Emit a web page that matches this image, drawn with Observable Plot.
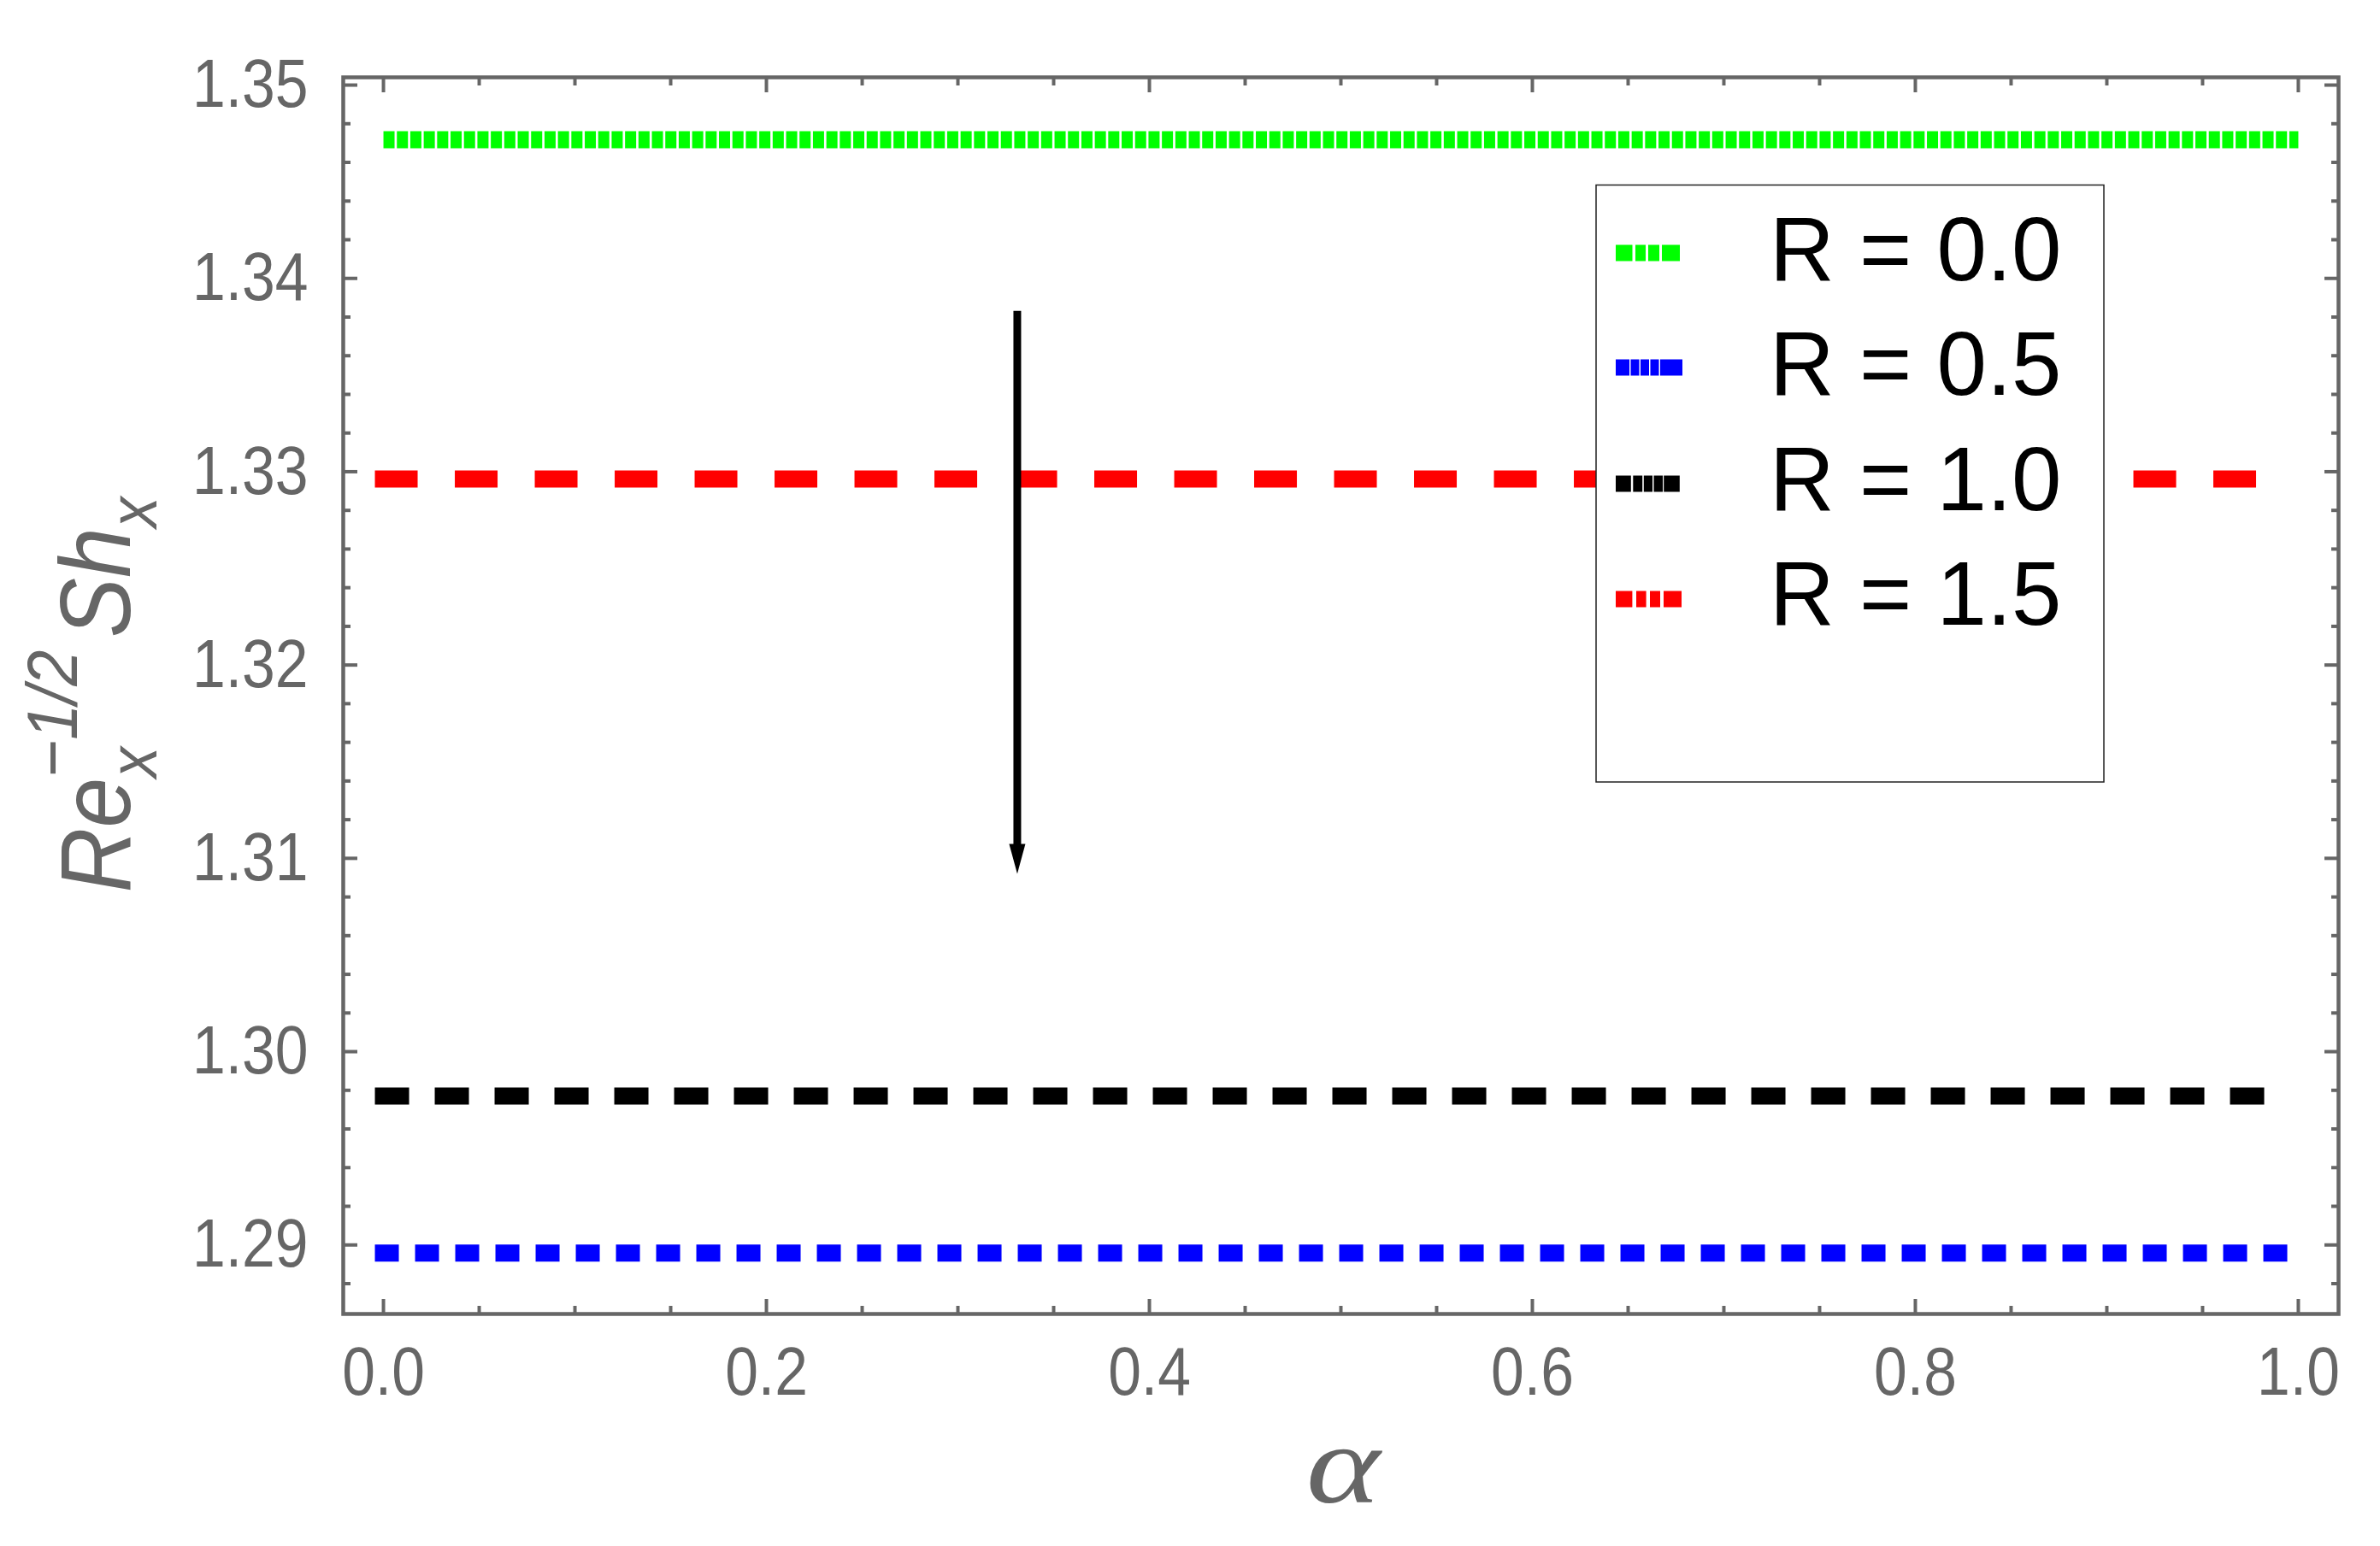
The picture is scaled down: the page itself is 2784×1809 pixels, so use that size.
<!DOCTYPE html>
<html>
<head>
<meta charset="utf-8">
<script src="https://cdn.jsdelivr.net/npm/d3@7"></script>
<script src="https://cdn.jsdelivr.net/npm/@observablehq/plot@0.6"></script>
<style>
  html, body { margin: 0; padding: 0; background: #fff; }
  svg { display: block; }
</style>
</head>
<body>
<div id="chart"></div>
<script>
// ---------- data ----------
const alpha = [0, 1];
const seriesNames = ["R = 0.0", "R = 0.5", "R = 1.0", "R = 1.5"];
const shR00 = [1.34717, 1.34717];
const shR05 = [1.28958, 1.28958];
const shR10 = [1.29770, 1.29770];
const shR15 = [1.32962, 1.32962];
const xTicks = [0, 0.2, 0.4, 0.6, 0.8, 1.0];
const xMinorTicks = [0.05, 0.1, 0.15, 0.25, 0.3, 0.35, 0.45, 0.5, 0.55, 0.65, 0.7, 0.75, 0.85, 0.9, 0.95];
const yTicks = [1.29, 1.30, 1.31, 1.32, 1.33, 1.34, 1.35];
const yMinorTicks = [1.288, 1.292, 1.294, 1.296, 1.298, 1.302, 1.304, 1.306, 1.308,
  1.312, 1.314, 1.316, 1.318, 1.322, 1.324, 1.326, 1.328, 1.332, 1.334, 1.336, 1.338,
  1.342, 1.344, 1.346, 1.348];
const arrowAlpha = [0.331];
const arrowTop = [1.3383];
const arrowTip = [1.3092];

// ---------- styles ----------
const colors = ["#00ff00", "#0000ff", "#000000", "#ff0000"];
const dashes = ["13,2.7", "8,39", "20,50", "30,63.5"];
const caps = ["butt", "square", "square", "square"];
const legendDashes = [
  "19.5,3.5,12,3,13,3,21,100",
  "16,1.5,10,1.5,10,1.5,10,1.5,26,100",
  "17.8,2.5,10.9,1.6,10.2,1.5,10.5,1.2,18.6,100",
  "19.4,4.6,11.6,4.4,12,4,21,100"
];
const gray = "#666666";
const sansFont = "'Liberation Sans', Arial, sans-serif";

const values = [shR00, shR05, shR10, shR15];
const series = seriesNames.map((name, i) =>
  alpha.map((a, j) => ({alpha: a, sh: values[i][j], name})));
const arrowData = arrowAlpha.map((a, i) => ({alpha: a, top: arrowTop[i], tip: arrowTip[i]}));

const headSymbol = {
  draw(ctx) {
    ctx.moveTo(0, 0);
    ctx.lineTo(-9.5, -35);
    ctx.lineTo(9.5, -35);
    ctx.closePath();
  }
};

const svg = Plot.plot({
  width: 2784,
  height: 1809,
  marginLeft: 401,
  marginRight: 49,
  marginTop: 90,
  marginBottom: 272,
  style: {background: "white", fontFamily: sansFont, color: gray},
  x: {domain: [-0.021, 1.021]},
  y: {domain: [1.28643, 1.3504]},
  marks: [
    // lines
    ...series.map((d, i) => Plot.line(d, {
      x: "alpha", y: "sh", stroke: colors[i], strokeWidth: 20,
      strokeDasharray: dashes[i], strokeLinecap: caps[i]
    })),
    // arrow
    Plot.ruleX(arrowData, {x: "alpha", y1: "top", y2: "tip", stroke: "black", strokeWidth: 9, insetBottom: 25}),
    Plot.dot(arrowData, {x: "alpha", y: "tip", symbol: headSymbol, fill: "black", stroke: "none"}),
    // frame
    Plot.frame({stroke: gray, strokeWidth: 4.5}),
    // ticks (inward)
    Plot.axisX(xTicks, {anchor: "bottom", tickSize: -17, fill: "none", stroke: gray, strokeWidth: 4, label: null}),
    Plot.axisX(xTicks, {anchor: "top", tickSize: -17, fill: "none", stroke: gray, strokeWidth: 4, label: null}),
    Plot.axisX(xMinorTicks, {anchor: "bottom", tickSize: -9, fill: "none", stroke: gray, strokeWidth: 4, label: null}),
    Plot.axisX(xMinorTicks, {anchor: "top", tickSize: -9, fill: "none", stroke: gray, strokeWidth: 4, label: null}),
    Plot.axisY(yTicks, {anchor: "left", tickSize: -17, fill: "none", stroke: gray, strokeWidth: 4, label: null}),
    Plot.axisY(yTicks, {anchor: "right", tickSize: -17, fill: "none", stroke: gray, strokeWidth: 4, label: null}),
    Plot.axisY(yMinorTicks, {anchor: "left", tickSize: -9, fill: "none", stroke: gray, strokeWidth: 4, label: null}),
    Plot.axisY(yMinorTicks, {anchor: "right", tickSize: -9, fill: "none", stroke: gray, strokeWidth: 4, label: null}),
    // tick labels
    Plot.axisX(xTicks, {anchor: "bottom", tickSize: 0, tickPadding: 38, tickFormat: d3.format(".1f"),
      fill: gray, fontSize: 80, fontFamily: sansFont, label: null}),
    Plot.axisY(yTicks, {anchor: "left", tickSize: 0, tickPadding: 41, tickFormat: d3.format(".2f"),
      fill: gray, fontSize: 80, fontFamily: sansFont, label: null})
  ]
});

const s = d3.select(svg);

// narrow tick labels
s.selectAll('g[aria-label="x-axis tick label"] text, g[aria-label="y-axis tick label"] text')
  .attr("transform", function() { return (d3.select(this).attr("transform") || "") + " scale(0.87,1)"; });

// y axis label
const yl = s.append("text")
  .attr("transform", "translate(152,813) rotate(-90) scale(0.9,1)")
  .attr("text-anchor", "middle")
  .attr("fill", gray)
  .attr("font-family", sansFont)
  .attr("font-style", "italic");
yl.append("tspan").attr("font-size", 117).text("Re");
yl.append("tspan").attr("font-size", 80).attr("dy", 31).text("x");
yl.append("tspan").attr("font-size", 84).attr("dx", -40).attr("dy", -93).text("\u22121/2");
yl.append("tspan").attr("font-size", 117).attr("dx", 16).attr("dy", 62).text("Sh");
yl.append("tspan").attr("font-size", 80).attr("dy", 31).text("x");

// x axis label
s.append("text")
  .attr("transform", "translate(1571,1758) scale(1.25,1)")
  .attr("text-anchor", "middle")
  .attr("fill", gray)
  .attr("font-family", "'Liberation Serif', 'Times New Roman', serif")
  .attr("font-style", "italic")
  .attr("font-size", 132)
  .text("\u03b1");

// legend
const lg = s.append("g").attr("text-anchor", "start");
lg.append("rect")
  .attr("x", 1867).attr("y", 216.5).attr("width", 594).attr("height", 698.5)
  .attr("fill", "white").attr("stroke", "#222").attr("stroke-width", 1.5);
const sampleY = [296, 430, 566, 701];
const textY = [328, 462, 597, 731];
seriesNames.forEach((name, i) => {
  lg.append("line")
    .attr("x1", 1890).attr("x2", 1968)
    .attr("y1", sampleY[i]).attr("y2", sampleY[i])
    .attr("stroke", colors[i]).attr("stroke-width", 19)
    .attr("stroke-dasharray", legendDashes[i]);
  lg.append("text")
    .attr("x", 2070).attr("y", textY[i])
    .attr("text-anchor", "start")
    .attr("font-family", sansFont).attr("font-size", 105)
    .attr("fill", "black")
    .text(name);
});

document.getElementById("chart").appendChild(svg);
</script>
</body>
</html>
